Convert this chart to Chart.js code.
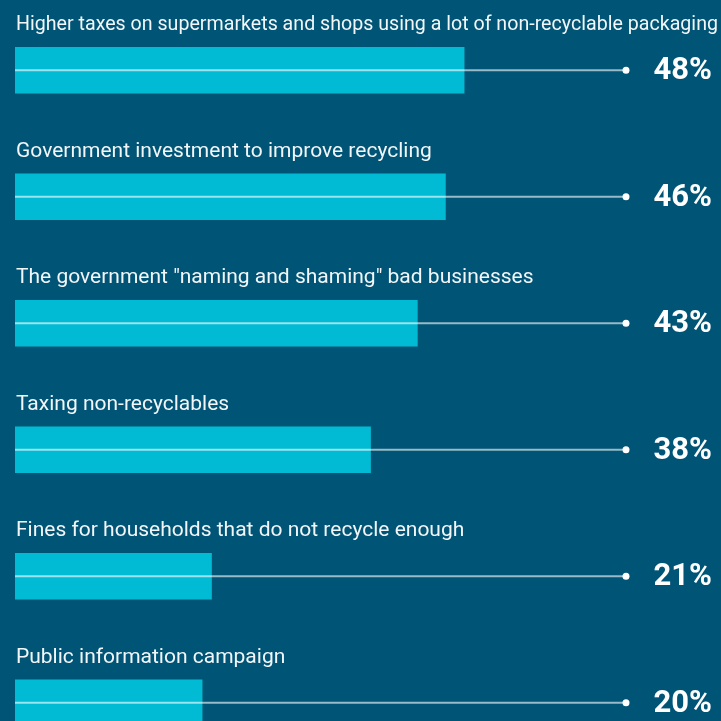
<!DOCTYPE html>
<html>
<head>
<meta charset="utf-8">
<script src="https://cdn.jsdelivr.net/npm/chart.js@4.4.1/dist/chart.umd.min.js"></script>
<style>
  html, body { margin: 0; padding: 0; background: #005476; overflow: hidden; }
  #wrap { position: relative; width: 721px; height: 766px; }
</style>
</head>
<body>
<div id="wrap"><canvas id="chartMeasures"></canvas></div>
<script>
const measures = [
  "Higher taxes on supermarkets and shops using a lot of non-recyclable packaging",
  "Government investment to improve recycling",
  "The government \"naming and shaming\" bad businesses",
  "Taxing non-recyclables",
  "Fines for households that do not recycle enough",
  "Public information campaign"
];
const support = [48, 46, 43, 38, 21, 20];

// the guide line runs from zero to the end of the axis, where the dot sits
const axisMax = 65.3;

const guidesAndLabels = {
  id: "guidesAndLabels",
  afterDatasetsDraw(chart) {
    const { ctx, scales } = chart;
    const x = scales.x;
    const y = scales.y;
    const x0 = x.getPixelForValue(0);
    const x1 = x.getPixelForValue(axisMax);

    ctx.save();
    support.forEach((v, i) => {
      const cy = y.getPixelForValue(i);

      ctx.strokeStyle = "rgba(255,255,255,0.6)";
      ctx.lineWidth = 2;
      ctx.beginPath();
      ctx.moveTo(x0, cy);
      ctx.lineTo(x1, cy);
      ctx.stroke();

      ctx.fillStyle = "#ffffff";
      ctx.beginPath();
      ctx.arc(x1, cy, 3.5, 0, Math.PI * 2);
      ctx.fill();

      ctx.font = "bold 31px Roboto";
      ctx.textAlign = "right";
      ctx.textBaseline = "middle";
      ctx.fillText(`${v}%`, 712, cy + 1);

      // long labels get squeezed to fit the width
      ctx.fillStyle = "#f2f6f8";
      ctx.font = "21px Roboto";
      ctx.textAlign = "left";
      ctx.textBaseline = "alphabetic";
      ctx.fillText(measures[i], x0 + 1, cy - 40, 702);
    });
    ctx.restore();
  }
};

new Chart(document.getElementById("chartMeasures"), {
  type: "bar",
  data: {
    labels: measures,
    datasets: [
      {
        data: support,
        backgroundColor: "#00bbd3",
        barThickness: 46
      }
    ]
  },
  options: {
    indexAxis: "y",
    responsive: true,
    maintainAspectRatio: false,
    animation: false,
    layout: { padding: { left: 15, right: 95, top: 7, bottom: 0 } },
    plugins: { legend: { display: false }, tooltip: { enabled: false } },
    scales: {
      x: { display: false, min: 0, max: axisMax },
      y: { display: false }
    }
  },
  plugins: [guidesAndLabels]
});
</script>
</body>
</html>
